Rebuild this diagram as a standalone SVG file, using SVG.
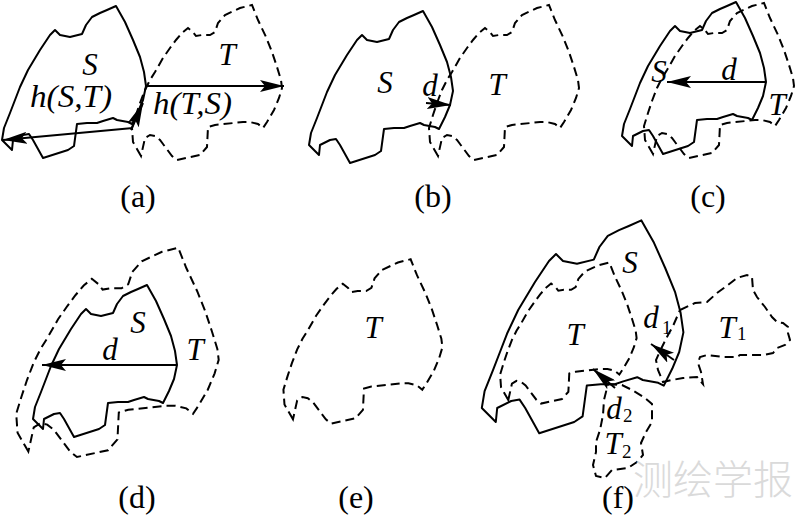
<svg xmlns="http://www.w3.org/2000/svg" xmlns:xlink="http://www.w3.org/1999/xlink" width="800" height="522" viewBox="0 0 800 522">
<style>
.s{fill:none;stroke:#000;stroke-width:2;stroke-linejoin:round}
.t{fill:none;stroke:#000;stroke-width:2;stroke-dasharray:9 5}
.arr{fill:none;stroke:#000;stroke-width:2;marker-end:url(#ah)}
.it{font-family:"Liberation Serif","Times New Roman",serif;font-style:italic;font-size:31px;fill:#000;text-anchor:middle}
.sub{font-family:"Liberation Serif","Times New Roman",serif;font-size:19px;fill:#000}
.cap{font-family:"Liberation Serif","Times New Roman",serif;font-size:32px;fill:#000;text-anchor:middle}
.wm{font-family:"Noto Sans CJK SC","Noto Sans",sans-serif;font-size:40px;font-weight:300;fill:#dadada}
</style>
<defs>
<marker id="ah" viewBox="0 0 24 12" refX="24" refY="6" markerWidth="24" markerHeight="12" markerUnits="userSpaceOnUse" orient="auto">
<path d="M0,0 L24,6 L0,12 L5,6 Z" fill="#000"/>
</marker>
<path id="S" d="M116,6 L125,22 L133,40 L140,57 L144,72 L146,86 L143,100 L138,112 L132,124 L128,122 L117,120 L113,118 L103,121 L97,123 L87,123 L77,124 L74,146 L68,150 L43,158 L33,140 L29,134 L23,135 L13,140 L12,150 L2,140 L4,128 L10,113 L15,100 L20,87 L28,70 L40,50 L50,35 L55,30 L60,35 L70,37 L82,34 L86,25 L92,17 L100,13 L107,10 Z"/>
<path id="T" d="M141,156 L133,142 L132,128 L136,115 L140,103 L145,90 L150,80 L155,72 L163,58 L170,48 L176,40 L182,33 L188,28 L193,32 L196,36 L202,35 L210,35 L215,32 L218,23 L225,15 L240,8 L252,5 L258,20 L266,37 L272,52 L277,67 L281,80 L282,88 L279,98 L274,110 L267,122 L263,128 L258,124 L250,122 L243,122 L215,125 L208,127 L207,147 L200,155 L177,160 L172,156 L160,140 L155,136 L150,135 L145,138 Z"/>
</defs>

<g id="panel-a">
<use xlink:href="#S" href="#S" class="s"/>
<use xlink:href="#T" href="#T" class="t"/>
<text class="it" x="90" y="75">S</text>
<text class="it" x="227" y="65">T</text>
<text class="it" x="30" y="107" style="text-anchor:start" textLength="82" lengthAdjust="spacingAndGlyphs">h(S,T)</text>
<text class="it" x="153" y="114" style="text-anchor:start" textLength="79" lengthAdjust="spacingAndGlyphs">h(T,S)</text>
<text class="cap" x="138" y="207">(a)</text>
</g>

<g id="panel-b">
<use xlink:href="#S" href="#S" class="s" transform="translate(307,5)"/>
<use xlink:href="#T" href="#T" class="t" transform="translate(297,0)"/>
<text class="it" x="385" y="93">S</text>
<text class="it" x="430" y="96">d</text>
<text class="it" x="497" y="95">T</text>
<text class="cap" x="433" y="207">(b)</text>
</g>

<g id="panel-c">
<use xlink:href="#S" href="#S" class="s" transform="translate(620,-4)"/>
<use xlink:href="#T" href="#T" class="t" transform="translate(512,-2)"/>
<text class="it" x="659" y="82">S</text>
<text class="it" x="729" y="80">d</text>
<text class="it" x="777" y="115">T</text>
<text class="cap" x="708" y="207">(c)</text>
</g>

<g id="panel-d">
<use xlink:href="#S" href="#S" class="s" transform="translate(31,279)"/>
<use xlink:href="#T" href="#T" class="t" transform="translate(-162,241) scale(1.35)" style="stroke-width:1.48;stroke-dasharray:6.7 3.7"/>
<text class="it" x="138" y="333">S</text>
<text class="it" x="110" y="360">d</text>
<text class="it" x="195" y="360">T</text>
<text class="cap" x="137" y="508">(d)</text>
</g>

<g id="panel-e">
<use xlink:href="#T" href="#T" class="t" transform="translate(143.5,254) scale(1.06)" style="stroke-width:1.89;stroke-dasharray:8.5 4.7"/>
<text class="it" x="373" y="338">T</text>
<text class="cap" x="356" y="508">(e)</text>
</g>

<g id="panel-f">
<use xlink:href="#S" href="#S" class="s" transform="translate(479,212) scale(1.4)" style="stroke-width:1.43"/>
<use xlink:href="#T" href="#T" class="t" transform="translate(380,258) scale(0.91)" style="stroke-width:2.2;stroke-dasharray:9.9 5.5"/>
<path id="T1" class="t" d="M680,310 L695,303 L707,302 L717,293 L728,285 L737,278 L747,275 L752,277 L753,290 L757,297 L765,307 L772,317 L777,322 L783,323 L788,327 L788,333 L790,340 L785,345 L777,348 L773,353 L763,355 L740,355 L737,357 L723,357 L707,355 L700,357 L698,363 L701,372 L703,384 L697,377 L683,378 L672,380 L663,382 L658,370 L656,360 L662,347 L668,335 L673,326 Z"/>
<path id="T2" class="t" d="M608,384 L622,385 L632,390 L645,398 L652,404 L652,422 L646,432 L641,443 L643,455 L637,462 L628,468 L612,470 L605,478 L596,476 L593,465 L596,452 L596,442 L600,430 L603,415 L604,400 Z"/>
<text class="it" x="630" y="273">S</text>
<text class="it" x="575" y="345">T</text>
<text class="it" x="651" y="328">d</text><text class="sub" x="662" y="334">1</text>
<text class="it" x="727" y="338">T</text><text class="sub" x="737" y="340">1</text>
<text class="it" x="614" y="419">d</text><text class="sub" x="623" y="422">2</text>
<text class="it" x="613" y="454">T</text><text class="sub" x="622" y="458">2</text>
<text class="cap" x="618" y="508">(f)</text>
</g>

<g id="connectors">
<line class="arr" x1="133" y1="128" x2="3" y2="140"/>
<line class="arr" x1="131" y1="130" x2="143" y2="103"/>
<line class="arr" x1="146" y1="86" x2="284" y2="86"/>
<line class="arr" x1="426" y1="103" x2="451" y2="105"/>
<line class="arr" x1="766" y1="82" x2="667" y2="82"/>
<line class="arr" x1="177" y1="365" x2="42" y2="365"/>
<line class="arr" x1="674" y1="360" x2="651" y2="344"/>
<line class="arr" x1="615" y1="388" x2="593" y2="369"/>
</g>

<text class="wm" x="633" y="494">测绘学报</text>
</svg>
